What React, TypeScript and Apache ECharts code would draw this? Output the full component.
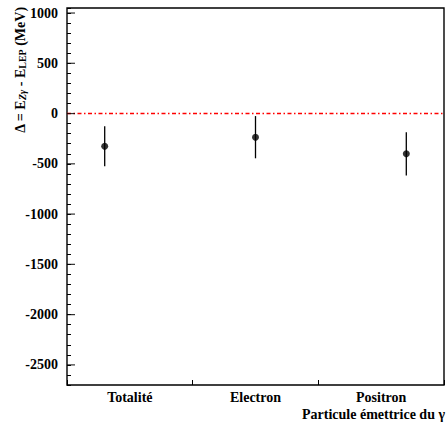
import React, { useEffect, useRef } from "react";
import * as echarts from "echarts";

const categories = ["Totalité", "Electron", "Positron"];
const xPositions = [0.3, 1.5, 2.7];
const deltaValues = [-325, -235, -400];
const errorValues = [200, 210, 215];
const majorTicks = [-2500, -2000, -1500, -1000, -500, 0, 500, 1000];
const zeroLine = [[0, 0], [3, 0]];
const yMin = -2700;
const yMax = 1050;

const FONT = "Liberation Serif";

export default function App() {
  const ref = useRef<HTMLDivElement>(null);
  useEffect(() => {
    if (!ref.current) return;
    const chart = echarts.init(ref.current, null, { renderer: "svg" });
    const points = xPositions.map((x, i) => [x, deltaValues[i]]);
    const bars = xPositions.map((x, i) => [x, deltaValues[i] - errorValues[i], deltaValues[i] + errorValues[i]]);
    chart.setOption({
      animation: false,
      backgroundColor: "#fff",
      grid: {
        left: 67,
        top: 8,
        right: 2,
        bottom: 39,
        show: true,
        borderColor: "#000",
        borderWidth: 1.4,
        backgroundColor: "transparent",
      },
      xAxis: [
        {
          type: "category",
          data: categories,
          boundaryGap: true,
          position: "bottom",
          axisLine: { show: false, onZero: false },
          axisTick: { show: true, inside: true, length: 5, lineStyle: { color: "#000", width: 1 } },
          axisLabel: {
            color: "#000",
            fontFamily: FONT,
            fontWeight: "bold",
            fontSize: 14,
            margin: 5,
          },
          splitLine: { show: false },
        },
        {
          type: "value",
          min: 0,
          max: 3,
          show: false,
          axisLine: { onZero: false },
          splitLine: { show: false },
        },
      ],
      yAxis: {
        type: "value",
        min: yMin,
        max: yMax,
        interval: 100,
        axisLine: { show: false, onZero: false },
        axisTick: { show: true, inside: true, length: 4, lineStyle: { color: "#000", width: 1 } },
        axisLabel: {
          color: "#000",
          fontFamily: FONT,
          fontWeight: "bold",
          fontSize: 14,
          margin: 9,
          formatter: (v: number) => (Math.round(v) % 500 === 0 ? String(Math.round(v)) : ""),
        },
        splitLine: { show: false },
      },
      graphic: [
        {
          type: "text",
          x: 19,
          y: 70,
          rotation: Math.PI / 2,
          style: {
            text: "{n|Δ = E}{s|Zγ}{n| - E}{t|LEP}{n| (MeV)}",
            align: "center",
            verticalAlign: "middle",
            fill: "#000",
            rich: {
              n: { fontFamily: FONT, fontWeight: "bold", fontSize: 14, fill: "#000", verticalAlign: "bottom", lineHeight: 16 },
              s: { fontFamily: FONT, fontWeight: "bold", fontStyle: "italic", fontSize: 10, fill: "#000", verticalAlign: "bottom", lineHeight: 10, padding: [8, 0, 0, 0] },
              t: { fontFamily: FONT, fontWeight: "bold", fontSize: 10, fill: "#000", verticalAlign: "bottom", lineHeight: 10, padding: [8, 0, 0, 0] },
            },
          },
        },
        {
          type: "text",
          x: 445,
          y: 414,
          style: {
            text: "Particule émettrice du γ",
            align: "right",
            verticalAlign: "middle",
            fill: "#000",
            fontFamily: FONT,
            fontWeight: "bold",
            fontSize: 14,
          },
        },
      ],
      series: [
        {
          type: "line",
          xAxisIndex: 1,
          data: zeroLine,
          symbol: "none",
          silent: true,
          lineStyle: { color: "#ff0000", width: 1.5, type: [4, 2.5, 1.5, 2.5] },
          itemStyle: { color: "#ff0000" },
          z: 1,
        },
        {
          type: "custom",
          xAxisIndex: 1,
          renderItem: (params: any, api: any) => {
            const x = api.value(0);
            const lo = api.coord([x, api.value(1)]);
            const hi = api.coord([x, api.value(2)]);
            return {
              type: "line",
              shape: { x1: lo[0], y1: lo[1], x2: hi[0], y2: hi[1] },
              style: { stroke: "#000", lineWidth: 1.3 },
            };
          },
          data: bars,
          z: 3,
        },
        {
          type: "scatter",
          xAxisIndex: 1,
          data: points,
          symbol: "circle",
          symbolSize: 7,
          itemStyle: { color: "#000" },
          z: 4,
        },
        {
          type: "scatter",
          xAxisIndex: 1,
          data: majorTicks.map((v) => [0, v]),
          symbol: "rect",
          symbolSize: [8, 1.2],
          symbolOffset: [4, 0],
          itemStyle: { color: "#000" },
          silent: true,
          clip: false,
          z: 2,
        },
      ],
    });
    return () => chart.dispose();
  }, []);
  return <div ref={ref} style={{ position: "fixed", left: 0, top: 0, width: 446, height: 424 }} />;
}
